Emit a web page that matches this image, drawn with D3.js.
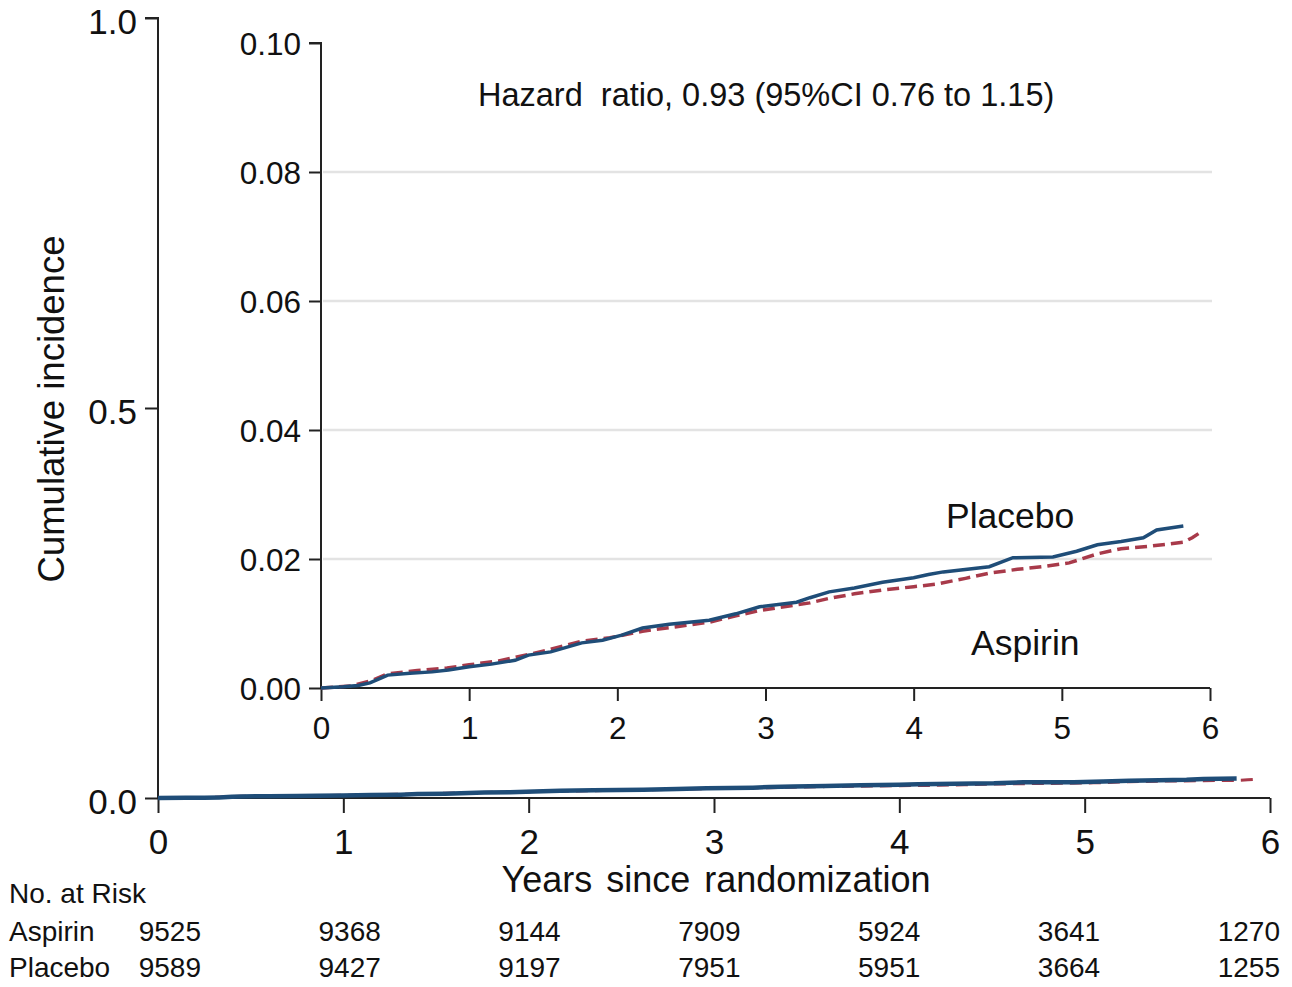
<!DOCTYPE html>
<html><head><meta charset="utf-8">
<script src="https://cdn.jsdelivr.net/npm/d3@7"></script>
<style>
html,body{margin:0;padding:0;background:#fff;}
svg text{font-family:"Liberation Sans",Arial,sans-serif;fill:#111;}
</style></head>
<body><svg id="c" width="1292" height="987"></svg>
<script>
// ---- data ----
const placeboTime = [0,0.15,0.25,0.33,0.40,0.45,0.60,0.75,0.86,1.00,1.15,1.31,1.40,1.55,1.76,1.90,2.03,2.17,2.35,2.62,2.80,2.96,3.21,3.30,3.43,3.60,3.79,4.00,4.10,4.20,4.51,4.67,4.94,5.10,5.24,5.40,5.55,5.64,5.82];
const placeboInc  = [0,0.0002,0.0004,0.0008,0.0015,0.0020,0.0023,0.0025,0.0028,0.0033,0.0037,0.0043,0.0051,0.0056,0.0070,0.0074,0.0082,0.0093,0.0099,0.0105,0.0115,0.0126,0.0133,0.0140,0.0149,0.0155,0.0164,0.0171,0.0176,0.0180,0.0188,0.0202,0.0203,0.0212,0.0222,0.0227,0.0233,0.0245,0.0251];
const aspirinTime = [0,0.20,0.35,0.45,0.65,0.85,1.00,1.20,1.40,1.55,1.75,1.95,2.17,2.40,2.62,2.80,2.96,3.10,3.30,3.43,3.60,3.79,4.00,4.15,4.35,4.51,4.70,4.90,5.05,5.24,5.40,5.60,5.82,5.88,5.94];
const aspirinInc  = [0,0.0003,0.0012,0.0022,0.0027,0.0031,0.0036,0.0042,0.0052,0.0060,0.0072,0.0078,0.0088,0.0095,0.0102,0.0112,0.0120,0.0125,0.0132,0.0139,0.0146,0.0152,0.0157,0.0161,0.0170,0.0178,0.0184,0.0189,0.0194,0.0208,0.0216,0.0220,0.0226,0.0233,0.0242];
const xTicks = [0,1,2,3,4,5,6];
const outerYTicks = [0,0.5,1.0];
const insetYTicks = [0,0.02,0.04,0.06,0.08,0.10];
const riskYears = [0,1,2,3,4,5,6];
const riskAspirin = [9525,9368,9144,7909,5924,3641,1270];
const riskPlacebo = [9589,9427,9197,7951,5951,3664,1255];
const groupNames = ["Aspirin","Placebo"];
const hrText = "Hazard\u00a0 ratio, 0.93 (95%CI 0.76 to 1.15)";

const BLUE = "#1f4d78", RED = "#a83a4a", AX = "#222";
const svg = d3.select("#c");

const aspirin = aspirinTime.map((t,i)=>({t, v:aspirinInc[i]}));
const placebo = placeboTime.map((t,i)=>({t, v:placeboInc[i]}));

// ---- outer plot ----
const ox = d3.scaleLinear().domain([0,6]).range([158,1270]);
const oy = d3.scaleLinear().domain([0,1]).range([798,18]);

const gOX = svg.append("g").attr("transform","translate(0,798)")
  .call(d3.axisBottom(ox).tickValues(xTicks).tickFormat(d3.format("d")).tickSize(15).tickPadding(16));
const gOY = svg.append("g").attr("transform","translate(158,0)")
  .call(d3.axisLeft(oy).tickValues(outerYTicks).tickFormat(d3.format(".1f")).tickSize(13).tickPadding(8));
[gOX,gOY].forEach(g=>{
  g.selectAll("path.domain").attr("stroke",AX).attr("stroke-width",2);
  g.selectAll(".tick line").attr("stroke",AX).attr("stroke-width",2);
  g.selectAll("text").style("font-size","35px").attr("fill","#111");
});
gOY.select("path.domain").attr("d","M0,798V18H-13");
gOX.select("path.domain").attr("d","M158,0H1270");
gOY.selectAll(".tick text").attr("dy","0.43em");

const oLine = d3.line().x(d=>ox(d.t)).y(d=>oy(d.v)).curve(d3.curveLinear);
svg.append("path").datum(aspirin).attr("d",oLine).attr("fill","none")
  .attr("stroke",RED).attr("stroke-width",3).attr("stroke-dasharray","12,7");
svg.append("path").datum(placebo).attr("d",oLine).attr("fill","none")
  .attr("stroke",BLUE).attr("stroke-width",4.5);

svg.append("text").attr("transform","translate(64,409) rotate(-90)")
  .attr("text-anchor","middle").style("font-size","36.5px").text("Cumulative incidence");
svg.append("text").attr("x",716).attr("y",892).attr("text-anchor","middle")
  .style("font-size","36px").style("word-spacing","4px").text("Years since randomization");

// ---- inset ----
const ix = d3.scaleLinear().domain([0,6]).range([321,1210]);
const iy = d3.scaleLinear().domain([0,0.10]).range([688,43]);

svg.append("g").selectAll("line").data(insetYTicks.filter(d=>d>0 && d<0.1)).join("line")
  .attr("x1",323).attr("x2",1212).attr("y1",d=>iy(d)).attr("y2",d=>iy(d))
  .attr("stroke","#e3e3e3").attr("stroke-width",2.5);

const gIX = svg.append("g").attr("transform","translate(0,688)")
  .call(d3.axisBottom(ix).tickValues(xTicks).tickFormat(d3.format("d")).tickSize(13).tickPadding(16));
const gIY = svg.append("g").attr("transform","translate(321,0)")
  .call(d3.axisLeft(iy).tickValues(insetYTicks).tickFormat(d3.format(".2f")).tickSize(12).tickPadding(8));
[gIX,gIY].forEach(g=>{
  g.selectAll("path.domain").attr("stroke",AX).attr("stroke-width",2);
  g.selectAll(".tick line").attr("stroke",AX).attr("stroke-width",2);
  g.selectAll("text").style("font-size","31.5px").attr("fill","#111");
});
gIY.select("path.domain").attr("d","M0,688V43H-12");
gIX.select("path.domain").attr("d","M321,0H1210");
gIY.selectAll(".tick text").attr("dy","0.36em");

const iLine = d3.line().x(d=>ix(d.t)).y(d=>iy(d.v)).curve(d3.curveLinear);
svg.append("path").datum(aspirin).attr("d",iLine).attr("fill","none")
  .attr("stroke",RED).attr("stroke-width",3.5).attr("stroke-dasharray","12,6");
svg.append("path").datum(placebo).attr("d",iLine).attr("fill","none")
  .attr("stroke",BLUE).attr("stroke-width",3.5);

svg.append("text").attr("x",478).attr("y",106).style("font-size","32.5px").text(hrText);
svg.append("text").attr("x",946).attr("y",528).style("font-size","35.5px").text(groupNames[1]);
svg.append("text").attr("x",971).attr("y",655).style("font-size","35.5px").text(groupNames[0]);

// ---- risk table ----
const rx = d3.scaleLinear().domain([0,6]).range([201,1280]);
svg.append("text").attr("x",9).attr("y",903).style("font-size","28px").text("No. at Risk");
[[groupNames[0],riskAspirin,941],[groupNames[1],riskPlacebo,977]].forEach(([name,vals,y])=>{
  svg.append("text").attr("x",9).attr("y",y).style("font-size","28px").text(name);
  svg.append("g").selectAll("text").data(vals).join("text")
    .attr("x",(d,i)=>rx(riskYears[i])).attr("y",y).attr("text-anchor","end")
    .style("font-size","28px").text(d=>d);
});
</script></body></html>
